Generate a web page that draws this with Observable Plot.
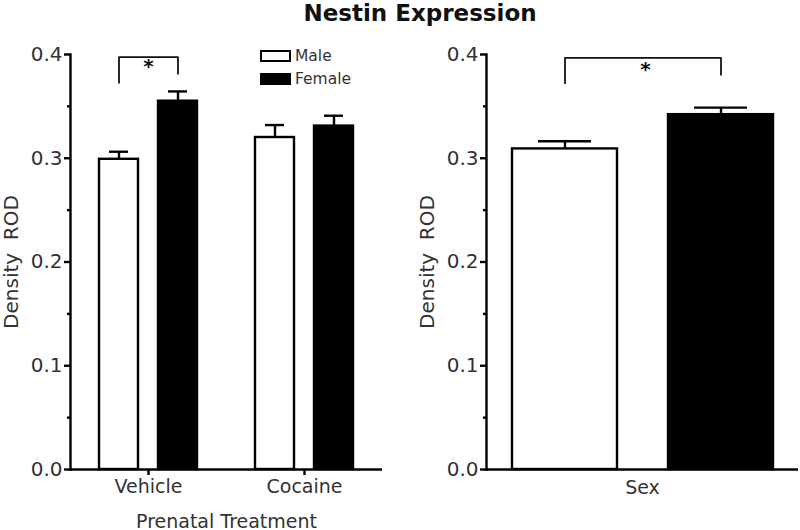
<!DOCTYPE html>
<html>
<head>
<meta charset="utf-8">
<script src="https://cdn.jsdelivr.net/npm/d3@7"></script>
<script src="https://cdn.jsdelivr.net/npm/@observablehq/plot@0.6"></script>
<style>
  html, body { margin: 0; padding: 0; background: white; }
  #root { position: relative; width: 800px; height: 530px; overflow: hidden; font-family: "DejaVu Sans", sans-serif; }
  #title { position: absolute; left: 0; top: 0px; width: 840px; text-align: center; font-weight: bold; font-size: 23px; line-height: normal; color: #111; }
  .panel { position: absolute; top: 30px; }
  #legend { position: absolute; left: 260px; top: 50px; font-size: 15.5px; color: #333; }
  .lg { display: flex; align-items: center; height: 12px; margin-bottom: 10.5px; }
  .sw { width: 27px; height: 8px; border: 2.2px solid #000; margin-right: 4px; }
</style>
</head>
<body>
<div id="root">
  <div id="title">Nestin Expression</div>
  <div id="left" class="panel" style="left:0px"></div>
  <div id="right" class="panel" style="left:400px"></div>
  <div id="legend"></div>
</div>
<script>
// ---- data ----
const treatments = ["Vehicle", "Cocaine"];
const sexes = ["Male", "Female"];
const sexColors = ["white", "black"];
const groupTreatment = ["Vehicle", "Vehicle", "Cocaine", "Cocaine"];
const groupSex = ["Male", "Female", "Male", "Female"];
const groupMean = [0.299, 0.355, 0.320, 0.331];
const groupSem = [0.0073, 0.0094, 0.012, 0.010];

const sexMean = [0.309, 0.342];
const sexSem = [0.0074, 0.0068];

const majorTicks = [0, 0.1, 0.2, 0.3, 0.4];
const minorTicks = [0.05, 0.15, 0.25, 0.35];
const yLabel = "Density\u00a0\u00a0ROD";

// significance brackets (left leg bottom, top, top, right leg bottom)
const bracketLeftSex = ["Male", "Male", "Female", "Female"];
const bracketLeftY = [0.3727, 0.3974, 0.3974, 0.3814];
const bracketRightY = [0.3724, 0.3968, 0.3968, 0.3805];
const starLeftY = 0.3884;
const starRightY = 0.3859;

// ---- tables ----
const leftData = groupMean.map((m, i) => ({treatment: groupTreatment[i], sex: groupSex[i], mean: m, hi: m + groupSem[i]}));
const rightData = sexMean.map((m, i) => ({sex: sexes[i], mean: m, hi: m + sexSem[i]}));
const leftBracket = bracketLeftY.map((y, i) => ({treatment: "Vehicle", sex: bracketLeftSex[i], y}));
const rightBracket = bracketRightY.map((y, i) => ({sex: bracketLeftSex[i], y}));

const baseStyle = {fontFamily: "DejaVu Sans", fontSize: "19px", background: "white", overflow: "visible"};
const SW = 2.4;

const left = Plot.plot({
  width: 400, height: 500,
  marginLeft: 70, marginRight: 18, marginTop: 24, marginBottom: 61,
  style: baseStyle,
  y: {domain: [0, 0.4]},
  x: {domain: sexes, paddingInner: 1/3, paddingOuter: 0.467, axis: null},
  fx: {domain: treatments, padding: 0, axis: null},
  color: {domain: sexes, range: sexColors},
  marks: [
    Plot.axisY({ticks: majorTicks, tickSize: 6, tickPadding: 2, tickFormat: ".1f", stroke: "black", strokeWidth: SW, fill: "#333",
      label: yLabel, labelAnchor: "center", labelArrow: "none", labelOffset: 67, fontSize: 20}),
    Plot.axisY({ticks: minorTicks, tickSize: 3, tickFormat: () => "", stroke: "black", strokeWidth: SW, label: null}),
    Plot.axisFx({anchor: "bottom", tickSize: 6, tickPadding: 4, stroke: "black", strokeWidth: SW, fill: "#333",
      label: "Prenatal Treatment", labelAnchor: "center", labelArrow: "none", labelOffset: 58}),
    Plot.frame({anchor: "left", facetAnchor: "left", stroke: "black", strokeWidth: SW}),
    Plot.barY(leftData, {fx: "treatment", x: "sex", y: "mean", fill: "sex", stroke: "black", strokeWidth: SW}),
    Plot.ruleX(leftData, {fx: "treatment", x: "sex", y1: "mean", y2: "hi", stroke: "black", strokeWidth: SW}),
    Plot.tickY(leftData, {fx: "treatment", x: "sex", y: "hi", stroke: "black", strokeWidth: SW, insetLeft: 10, insetRight: 10}),
    Plot.ruleY([0], {stroke: "black", strokeWidth: SW}),
    Plot.line(leftBracket, {fx: "treatment", x: "sex", y: "y", stroke: "#111", strokeWidth: 1.8}),
    Plot.text([{treatment: "Vehicle", y: starLeftY}], {fx: "treatment", y: "y", text: () => "*", fontSize: 20, fontWeight: "bold", fill: "#111"})
  ]
});
document.getElementById("left").appendChild(left);

const right = Plot.plot({
  width: 400, height: 500,
  marginLeft: 86, marginRight: 2, marginTop: 24, marginBottom: 61,
  style: baseStyle,
  y: {domain: [0, 0.4]},
  x: {domain: sexes, paddingInner: 0.33, paddingOuter: 0.165},
  color: {domain: sexes, range: sexColors},
  marks: [
    Plot.axisY({ticks: majorTicks, tickSize: 6, tickPadding: 2, tickFormat: ".1f", stroke: "black", strokeWidth: SW, fill: "#333",
      label: yLabel, labelAnchor: "center", labelArrow: "none", labelOffset: 67, fontSize: 20}),
    Plot.axisY({ticks: minorTicks, tickSize: 3, tickFormat: () => "", stroke: "black", strokeWidth: SW, label: null}),
    Plot.axisX({tickSize: 0, tickFormat: () => "", fill: "#333", label: "Sex", labelAnchor: "center", labelArrow: "none", labelOffset: 24}),
    Plot.frame({anchor: "left", stroke: "black", strokeWidth: SW}),
    Plot.barY(rightData, {x: "sex", y: "mean", fill: "sex", stroke: "black", strokeWidth: SW}),
    Plot.ruleX(rightData, {x: "sex", y1: "mean", y2: "hi", stroke: "black", strokeWidth: SW}),
    Plot.tickY(rightData, {x: "sex", y: "hi", stroke: "black", strokeWidth: SW, insetLeft: 26, insetRight: 26}),
    Plot.ruleY([0], {stroke: "black", strokeWidth: SW}),
    Plot.line(rightBracket, {x: "sex", y: "y", stroke: "#111", strokeWidth: 1.8}),
    Plot.text([{y: starRightY}], {y: "y", text: () => "*", fontSize: 20, fontWeight: "bold", fill: "#111", dx: 3})
  ]
});
document.getElementById("right").appendChild(right);

// legend
const legend = d3.select("#legend");
sexes.forEach((s, i) => {
  const row = legend.append("div").attr("class", "lg");
  row.append("div").attr("class", "sw").style("background", sexColors[i]);
  row.append("span").text(s);
});
</script>
</body>
</html>
